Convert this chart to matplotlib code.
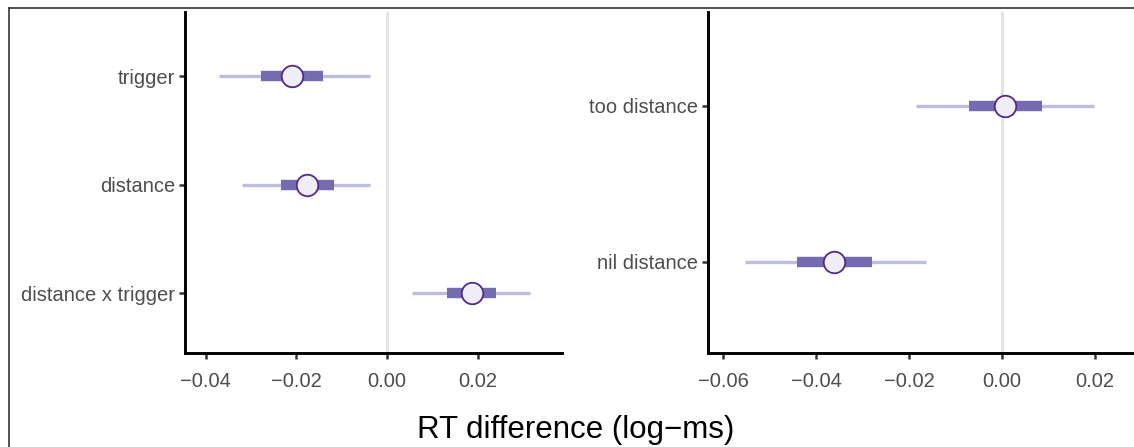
import matplotlib.pyplot as plt
from matplotlib.lines import Line2D

plt.rcParams['font.family'] = ['Liberation Sans', 'DejaVu Sans']

# left panel: main effects (bottom to top)
left_terms = ['distance x trigger', 'distance', 'trigger']
left_est = [0.0187, -0.0176, -0.0209]
left_lo50 = [0.0132, -0.0234, -0.0278]
left_hi50 = [0.0240, -0.0117, -0.0141]
left_lo95 = [0.0056, -0.0320, -0.0370]
left_hi95 = [0.0315, -0.0037, -0.0038]

# right panel: simple effects (bottom to top)
right_terms = ['nil distance', 'too distance']
right_est = [-0.0361, 0.0006]
right_lo50 = [-0.0442, -0.0071]
right_hi50 = [-0.0279, 0.0087]
right_lo95 = [-0.0553, -0.0186]
right_hi95 = [-0.0164, 0.0198]

left_ticks = [-0.04, -0.02, 0.00, 0.02]
right_ticks = [-0.06, -0.04, -0.02, 0.00, 0.02]

W, H = 1134, 447
fig = plt.figure(figsize=(W / 100, H / 100), dpi=100)


def fmt(t):
    return ('%.2f' % t).replace('-', '\u2212')


def panel(rect, terms, est, lo50, hi50, lo95, hi95, xlim, ylim, ticks):
    ax = fig.add_axes(rect)
    ax.axvline(0, color='#e3e3e3', lw=2.2, zorder=0)
    y = list(range(1, len(terms) + 1))
    ax.hlines(y, lo95, hi95, color='#bcbddc', lw=2.4, zorder=1)
    ax.hlines(y, lo50, hi50, color='#756bb1', lw=7.5, zorder=2)
    ax.plot(est, y, 'o', ms=15.5, mfc='#efedf5', mec='#54278f', mew=1.3, zorder=3)
    ax.set_xlim(*xlim)
    ax.set_ylim(*ylim)
    ax.set_yticks(y)
    ax.set_yticklabels(terms)
    ax.set_xticks(ticks)
    ax.set_xticklabels([fmt(t) for t in ticks])
    for s in ['top', 'right']:
        ax.spines[s].set_visible(False)
    for s in ['left', 'bottom']:
        ax.spines[s].set_linewidth(2.1)
        ax.spines[s].set_color('black')
    ax.tick_params(length=4.5, width=1.8, color='#333333', labelsize=14.5,
                   labelcolor='#4d4d4d')
    ax.tick_params(axis='x', pad=9)
    ax.tick_params(axis='y', pad=2.5)
    return ax


panel([185 / W, 1 - 353 / H, 377 / W, 341 / H],
      left_terms, left_est, left_lo50, left_hi50, left_lo95, left_hi95,
      (-0.04454, 0.03859), (0.447, 3.59), left_ticks)

panel([708 / W, 1 - 353 / H, 430 / W, 341 / H],
      right_terms, right_est, right_lo50, right_hi50, right_lo95, right_hi95,
      (-0.0633, 0.0293), (0.417, 2.60), right_ticks)

fig.text(576 / W, 1 - 430 / H, 'RT difference (log\u2212ms)', ha='center',
         va='center', fontsize=22.5, color='black')

# outer frame (left and top edges visible)
fig.add_artist(Line2D([8.5 / W, 8.5 / W], [0, 1 - 7.5 / H], transform=fig.transFigure,
                      color='#333333', lw=1.2))
fig.add_artist(Line2D([8.5 / W, 1], [1 - 7.5 / H, 1 - 7.5 / H], transform=fig.transFigure,
                      color='#333333', lw=1.2))

fig.savefig('out.png', dpi=100)
